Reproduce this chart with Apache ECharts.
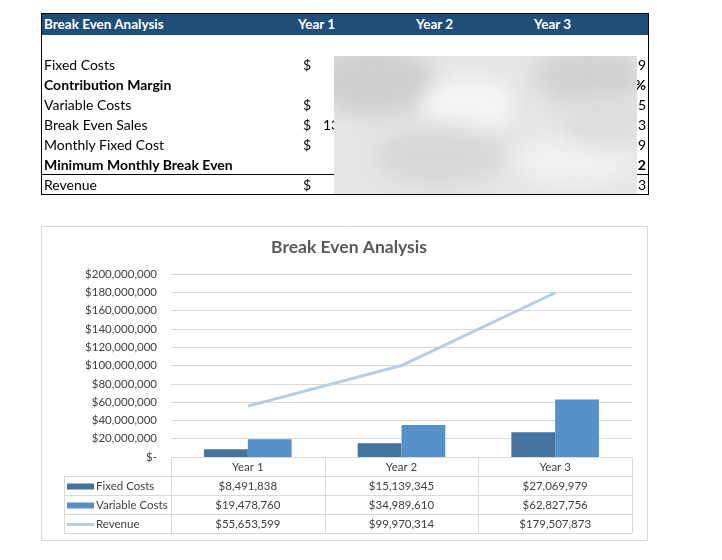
<!DOCTYPE html>
<html>
<head>
<meta charset="utf-8">
<script src="https://cdn.jsdelivr.net/npm/echarts@6/dist/echarts.min.js"></script>
<style>
  html, body { margin: 0; padding: 0; background: #fff; }
  #wrap { position: relative; width: 722px; height: 560px; overflow: hidden; }
  #chart { position: absolute; left: 0; top: 0; width: 722px; height: 560px; }
  #sheet { position: absolute; left: 41px; top: 13px; width: 606px; height: 180px;
           border: 1px solid #000; font-family: Lato, sans-serif; font-size: 14px; color: #000; }
  #sheet .hd { position: absolute; left: 0; top: 0; width: 100%; height: 21px; background: #1F4E79; }
  #sheet .t { position: absolute; white-space: nowrap; line-height: 20px; }
  #sheet .w { color: #fff; font-weight: bold; font-size: 13.5px; }
  #sheet .b { font-weight: bold; }
  #sheet .sep { position: absolute; left: 0; top: 160px; width: 100%; height: 1px; background: #000; }
  #sheet .blur { position: absolute; left: 292px; top: 42px; width: 303px; height: 138px;
                 background: #e6e6e6; overflow: hidden; }
  #sheet .blur i { position: absolute; border-radius: 50%; filter: blur(10px); }
</style>
</head>
<body>
<div id="wrap">
  <div id="chart"></div>
  <div id="sheet">
    <div class="hd"></div>
    <div class="t w" style="left:2px;top:0px;">Break Even Analysis</div>
    <div class="t w" style="left:256px;top:0px;">Year 1</div>
    <div class="t w" style="left:374px;top:0px;">Year 2</div>
    <div class="t w" style="left:492px;top:0px;">Year 3</div>

    <div class="t" style="left:2px;top:41px;">Fixed Costs</div>
    <div class="t b" style="left:2px;top:61px;">Contribution Margin</div>
    <div class="t" style="left:2px;top:81px;">Variable Costs</div>
    <div class="t" style="left:2px;top:101px;">Break Even Sales</div>
    <div class="t" style="left:2px;top:121px;">Monthly Fixed Cost</div>
    <div class="t b" style="left:2px;top:141px;">Minimum Monthly Break Even</div>
    <div class="t" style="left:2px;top:161px;">Revenue</div>

    <div class="t" style="left:261px;top:41px;">$</div>
    <div class="t" style="left:261px;top:81px;">$</div>
    <div class="t" style="left:261px;top:101px;">$</div>
    <div class="t" style="left:261px;top:121px;">$</div>
    <div class="t" style="left:261px;top:161px;">$</div>
    <div class="t" style="left:281px;top:101px;">13</div>

    <div class="t" style="right:2px;top:41px;">9</div>
    <div class="t b" style="right:2px;top:61px;">%</div>
    <div class="t" style="right:2px;top:81px;">5</div>
    <div class="t" style="right:2px;top:101px;">3</div>
    <div class="t" style="right:2px;top:121px;">9</div>
    <div class="t b" style="right:2px;top:141px;">32</div>
    <div class="t" style="right:2px;top:161px;">3</div>

    <div class="sep"></div>
    <div class="blur">
      <i style="left:-20px;top:-10px;width:120px;height:70px;background:#cfcfcf;"></i>
      <i style="left:90px;top:20px;width:90px;height:60px;background:#f4f4f4;"></i>
      <i style="left:200px;top:-10px;width:110px;height:60px;background:#d2d2d2;"></i>
      <i style="left:40px;top:70px;width:130px;height:60px;background:#d8d8d8;"></i>
      <i style="left:180px;top:80px;width:120px;height:50px;background:#f0f0f0;"></i>
      <i style="left:230px;top:40px;width:80px;height:50px;background:#dcdcdc;"></i>
    </div>
  </div>
</div>
<script>
// chart data
var years = ['Year 1', 'Year 2', 'Year 3'];
var fixedCosts = [8491838, 15139345, 27069979];
var variableCosts = [19478760, 34989610, 62827756];
var revenue = [55653599, 99970314, 179507873];
var seriesNames = ['Fixed Costs', 'Variable Costs', 'Revenue'];
var yTicks = [0, 20000000, 40000000, 60000000, 80000000, 100000000,
              120000000, 140000000, 160000000, 180000000, 200000000];

var colors = ['#44739E', '#5591C8', '#B7CCE6'];
var textColor = '#404040';
var lineColor = '#D9D9D9';
var font = 'Lato, sans-serif';
var fs = 11.5;

function money(v) {
  return '$' + v.toLocaleString('en-US');
}

var myChart = echarts.init(document.getElementById('chart'));

// data table under the plot (Excel style)
var gl = 171, gr = 632, gTop = 274, gBot = 457, rowH = 19;
var colW = (gr - gl) / years.length;
var tabLeft = 64;
var graphics = [];

// chart frame
graphics.push({ type: 'rect', shape: { x: 41.5, y: 226.5, width: 606, height: 314 },
  style: { fill: null, stroke: lineColor, lineWidth: 1 }, silent: true });

function hline(x1, x2, y) {
  graphics.push({ type: 'line', shape: { x1: x1, y1: y + 0.5, x2: x2, y2: y + 0.5 },
    style: { stroke: lineColor, lineWidth: 1 }, silent: true });
}
function vline(x, y1, y2) {
  graphics.push({ type: 'line', shape: { x1: x + 0.5, y1: y1, x2: x + 0.5, y2: y2 },
    style: { stroke: lineColor, lineWidth: 1 }, silent: true });
}
var tabBot = gBot + rowH * 4;
hline(gl, gr, gBot);
for (var r = 1; r <= 4; r++) hline(tabLeft, gr, gBot + rowH * r);
vline(tabLeft, gBot + rowH, tabBot);
for (var c = 0; c <= years.length; c++) vline(Math.round(gl + colW * c), gBot, tabBot);

function txt(x, y, s, align) {
  graphics.push({ type: 'text', x: x, y: y,
    style: { text: s, font: fs + 'px ' + font, fill: textColor, align: align, verticalAlign: 'middle' }, silent: true });
}

years.forEach(function (y, i) {
  txt(gl + colW * (i + 0.5), gBot + rowH / 2 + 1, y, 'center');
});
var rowsData = [fixedCosts, variableCosts, revenue];
rowsData.forEach(function (arr, r) {
  var cy = gBot + rowH * (r + 1) + rowH / 2 + 1;
  arr.forEach(function (v, i) {
    txt(gl + colW * (i + 0.5), cy, money(v), 'center');
  });
  if (r < 2) {
    graphics.push({ type: 'rect', shape: { x: 67, y: cy - 3, width: 27, height: 6 },
      style: { fill: colors[r] }, silent: true });
  } else {
    graphics.push({ type: 'rect', shape: { x: 67, y: cy - 1.5, width: 27, height: 3 },
      style: { fill: colors[r] }, silent: true });
  }
  txt(96, cy, seriesNames[r], 'left');
});

var option = {
  animation: false,
  title: {
    text: 'Break Even Analysis',
    left: 344, top: 233, textAlign: 'center',
    textStyle: { fontFamily: font, fontSize: 17.5, fontWeight: 'bold', color: '#595959' }
  },
  grid: { left: gl, right: 722 - gr, top: gTop, bottom: 560 - gBot },
  xAxis: {
    type: 'category', data: years,
    axisLine: { show: false }, axisTick: { show: false }, axisLabel: { show: false }
  },
  yAxis: {
    type: 'value', min: 0, max: yTicks[yTicks.length - 1], interval: yTicks[1] - yTicks[0],
    axisLine: { show: false }, axisTick: { show: false },
    axisLabel: {
      margin: 14, color: textColor, fontFamily: font, fontSize: fs,
      formatter: function (v) { return v === 0 ? '$-' : money(v); }
    },
    splitLine: { lineStyle: { color: lineColor, width: 1 } }
  },
  series: [
    { name: seriesNames[0], type: 'bar', data: fixedCosts, barGap: '0%', barCategoryGap: '43%',
      itemStyle: { color: colors[0] } },
    { name: seriesNames[1], type: 'bar', data: variableCosts, barGap: '0%', barCategoryGap: '43%',
      itemStyle: { color: colors[1] } },
    { name: seriesNames[2], type: 'line', data: revenue, symbol: 'none',
      lineStyle: { color: colors[2], width: 3 } }
  ],
  graphic: graphics
};
myChart.setOption(option);
</script>
</body>
</html>
